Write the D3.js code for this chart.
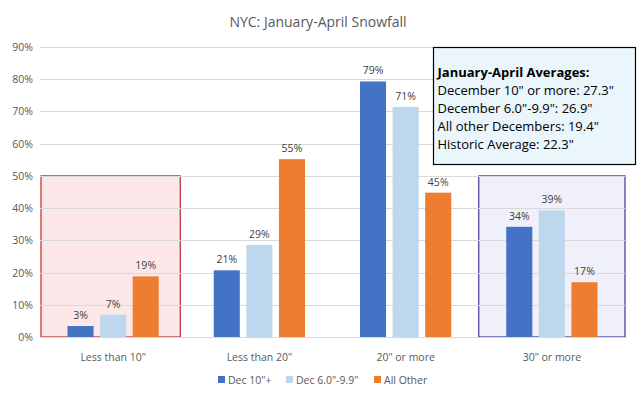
<!DOCTYPE html>
<html>
<head>
<meta charset="utf-8">
<script src="https://cdn.jsdelivr.net/npm/d3@7"></script>
<style>
  body { margin: 0; background: #fff; }
  svg { font-family: "Open Sans", "Noto Sans", sans-serif; }
</style>
</head>
<body>
<div id="chart"></div>
<script>
// data
var categories = ['Less than 10"', 'Less than 20"', '20" or more', '30" or more'];
var seriesNames = ['Dec 10"+', 'Dec 6.0"-9.9"', 'All Other'];
var dec10 = [3.4, 20.7, 79.3, 34.2];
var dec6 = [6.9, 28.6, 71.4, 39.3];
var allOther = [18.8, 55.2, 44.8, 17.0];
var yTicks = [0, 10, 20, 30, 40, 50, 60, 70, 80, 90];
var noteLines = ['December 10" or more: 27.3"', 'December 6.0"-9.9": 26.9"', 'All other Decembers: 19.4"', 'Historic Average: 22.3"'];

var colors = ["#4472c4", "#bdd7ee", "#ed7d31"];
var seriesValues = [dec10, dec6, allOther];

var W = 637, H = 395;
var margin = {top: 47, right: 12, bottom: 58, left: 40};

var svg = d3.select("#chart").append("svg")
    .attr("width", W)
    .attr("height", H);

var x0 = d3.scaleBand()
    .domain(categories)
    .range([margin.left, W - margin.right])
    .paddingInner(0.376)
    .paddingOuter(0.188);

var x1 = d3.scaleBand()
    .domain(seriesNames)
    .range([0, x0.bandwidth()])
    .paddingInner(0.2);

var y = d3.scaleLinear()
    .domain([0, 90])
    .range([H - margin.bottom, margin.top]);

// highlight boxes (behind grid)
var step = x0.step();
function bandStart(c) { return x0(c) - x0.paddingOuter() * step; }

svg.append("rect")
    .attr("x", bandStart(categories[0]) + 1)
    .attr("y", y(50))
    .attr("width", step - 7)
    .attr("height", y(0) - y(50))
    .attr("fill", "#fce8e8")
    .attr("stroke", "#c0282c")
    .attr("stroke-width", 1.2);

svg.append("rect")
    .attr("x", bandStart(categories[3]))
    .attr("y", y(50))
    .attr("width", step)
    .attr("height", y(0) - y(50))
    .attr("fill", "#f0f0fa")
    .attr("stroke", "#3a3a9a")
    .attr("stroke-width", 1.2);

// gridlines
svg.append("g")
  .selectAll("line")
  .data(yTicks)
  .enter().append("line")
    .attr("x1", margin.left)
    .attr("x2", W - margin.right)
    .attr("y1", function(d) { return Math.round(y(d)) + 0.5; })
    .attr("y2", function(d) { return Math.round(y(d)) + 0.5; })
    .attr("stroke", "#d9d9d9")
    .attr("stroke-width", 1);

// y tick labels
svg.append("g")
  .selectAll("text")
  .data(yTicks)
  .enter().append("text")
    .attr("x", 33)
    .attr("y", function(d) { return y(d) + 4; })
    .attr("text-anchor", "end")
    .attr("font-size", 10.5)
    .attr("fill", "#595959")
    .text(function(d) { return d + "%"; });

// bars
var groups = svg.append("g")
  .selectAll("g")
  .data(categories)
  .enter().append("g")
    .attr("transform", function(c) { return "translate(" + x0(c) + ",0)"; });

groups.selectAll("rect")
  .data(function(c, i) { return seriesNames.map(function(s, j) { return {s: s, v: seriesValues[j][i], j: j}; }); })
  .enter().append("rect")
    .attr("x", function(d) { return x1(d.s); })
    .attr("y", function(d) { return y(d.v); })
    .attr("width", x1.bandwidth())
    .attr("height", function(d) { return y(0) - y(d.v); })
    .attr("fill", function(d) { return colors[d.j]; });

groups.selectAll("text")
  .data(function(c, i) { return seriesNames.map(function(s, j) { return {s: s, v: seriesValues[j][i], j: j}; }); })
  .enter().append("text")
    .attr("x", function(d) { return x1(d.s) + x1.bandwidth() / 2; })
    .attr("y", function(d) { return y(d.v) - 7; })
    .attr("text-anchor", "middle")
    .attr("font-size", 10.5)
    .attr("fill", "#404040")
    .text(function(d) { return Math.round(d.v) + "%"; });

// category labels
svg.append("g")
  .selectAll("text")
  .data(categories)
  .enter().append("text")
    .attr("x", function(c) { return x0(c) + x0.bandwidth() / 2; })
    .attr("y", 361)
    .attr("text-anchor", "middle")
    .attr("font-size", 10.5)
    .attr("fill", "#595959")
    .text(function(c) { return c; });

// title
svg.append("text")
    .attr("x", 318)
    .attr("y", 27)
    .attr("text-anchor", "middle")
    .attr("font-size", 14)
    .attr("fill", "#595959")
    .text("NYC: January-April Snowfall");

// legend
var legendX = [218, 286, 374];
var legend = svg.append("g")
  .selectAll("g")
  .data(seriesNames)
  .enter().append("g")
    .attr("transform", function(d, i) { return "translate(" + legendX[i] + ",376)"; });

legend.append("rect")
    .attr("width", 7)
    .attr("height", 7)
    .attr("fill", function(d, i) { return colors[i]; });

legend.append("text")
    .attr("x", 10)
    .attr("y", 7.5)
    .attr("font-size", 10.5)
    .attr("fill", "#595959")
    .text(function(d) { return d; });

// note box
var note = svg.append("g").attr("transform", "translate(433.5,47.5)");
note.append("rect")
    .attr("width", 202)
    .attr("height", 117)
    .attr("fill", "#eaf6fc")
    .attr("stroke", "#000")
    .attr("stroke-width", 1.2);

note.append("text")
    .attr("x", 4)
    .attr("y", 29)
    .attr("font-size", 13)
    .attr("font-weight", "bold")
    .attr("fill", "#000")
    .text("January-April Averages:");

note.selectAll("text.line")
  .data(noteLines)
  .enter().append("text")
    .attr("class", "line")
    .attr("x", 4)
    .attr("y", function(d, i) { return 47 + i * 18; })
    .attr("font-size", 13)
    .attr("fill", "#000")
    .text(function(d) { return d; });
</script>
</body>
</html>
